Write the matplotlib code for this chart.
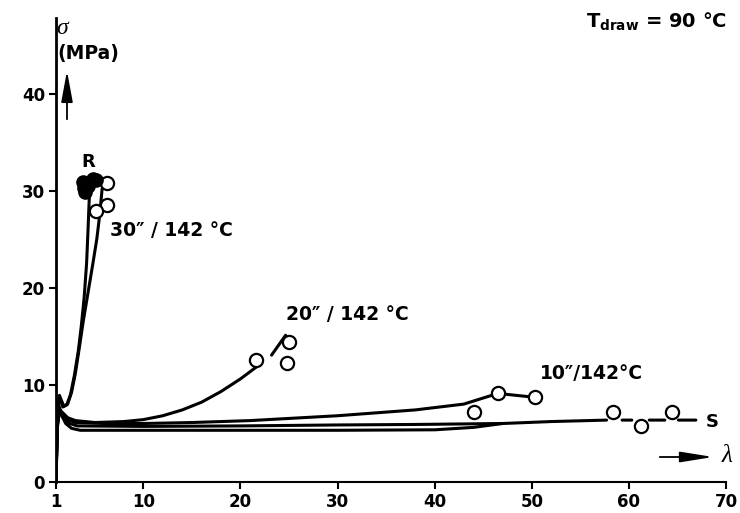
import matplotlib
matplotlib.use("Agg")
import matplotlib.pyplot as plt
from matplotlib.patches import FancyArrowPatch
import numpy as np

plt.rcParams['font.family'] = ['DejaVu Sans']
plt.rcParams['font.weight'] = 'bold'
plt.rcParams['mathtext.fontset'] = 'dejavusans'

nan = np.nan

# stress-strain curves, draw ratio lambda vs sigma (MPa)
c30a_x = [1.0, 1.1, 1.25, 1.45, 1.7, 2.1, 2.5, 2.9, 3.3, 3.6, 3.9, 4.15, 4.3, 4.45]
c30a_y = [0.0, 5.0, 8.3, 8.5, 7.7, 7.9, 9.0, 11.0, 13.5, 16.0, 19.0, 22.5, 26.0, 29.8]

c30b_x = [1.0, 1.15, 1.35, 1.55, 1.8, 2.2, 2.6, 3.0, 3.4, 3.8, 4.3, 4.8, 5.2, 5.5, 5.75]
c30b_y = [0.0, 6.0, 8.9, 8.4, 7.8, 8.0, 9.2, 11.2, 13.8, 16.5, 19.5, 22.5, 25.0, 27.5, 30.2]

c20_x = [1.0, 1.1, 1.3, 1.6, 2.2, 3.0, 5.0, 8.0, 10.0, 12.0, 14.0, 16.0, 18.0, 20.0, 21.6,
         nan, 23.2, 24.65]
c20_y = [0.0, 5.0, 7.5, 7.2, 6.6, 6.3, 6.1, 6.2, 6.4, 6.8, 7.4, 8.2, 9.3, 10.6, 11.8,
         nan, 13.05, 15.1]

c10_x = [1.0, 1.1, 1.3, 1.6, 2.2, 3.0, 6.0, 10.0, 15.0, 21.0, 30.0, 38.0, 43.0, 46.5, 50.3]
c10_y = [0.0, 5.0, 7.8, 7.0, 6.4, 6.1, 6.0, 6.0, 6.1, 6.3, 6.8, 7.4, 8.0, 9.1, 8.7]

cmid_x = [1.0, 1.15, 1.4, 1.8, 2.4, 3.2, 10.0, 20.0, 30.0, 38.0, 47.0]
cmid_y = [0.0, 6.0, 7.2, 6.6, 6.0, 5.75, 5.7, 5.75, 5.85, 5.9, 6.0]

cS_x = [1.0, 1.1, 1.25, 1.5, 2.0, 2.6, 3.5, 10.0, 20.0, 30.0, 40.0, 44.0, 47.0, 52.0, 57.7,
        nan, 59.3, 60.3, nan, 62.1, 63.7, nan, 65.1, 66.9]
cS_y = [0.0, 5.0, 7.3, 7.0, 6.0, 5.5, 5.3, 5.3, 5.3, 5.3, 5.35, 5.6, 6.0, 6.2, 6.35,
        nan, 6.35, 6.35, nan, 6.35, 6.35, nan, 6.35, 6.35]

# break points
open30_x = [6.3, 6.25, 5.15]
open30_y = [30.8, 28.5, 27.9]
filledR_x = [3.8, 4.0, 4.3, 4.8, 5.1, 3.9]
filledR_y = [30.9, 29.9, 30.5, 31.2, 31.1, 30.3]
open20_x = [21.6, 25.0, 24.8]
open20_y = [12.5, 14.4, 12.2]
open10_x = [44.0, 46.5, 50.3]
open10_y = [7.2, 9.1, 8.7]
openS_x = [58.4, 61.2, 64.4]
openS_y = [7.2, 5.7, 7.2]

x_ticks = [1, 10, 20, 30, 40, 50, 60, 70]
y_ticks = [0, 10, 20, 30, 40]

W, H = 740, 513
fig = plt.figure(figsize=(W / 100, H / 100), dpi=100)
ax = fig.add_axes([56 / W, 1 - 481.7 / H, (726 - 56) / W, (481.7 - 18) / H])


def fx(px):
    return px / W


def fy(py):
    return 1 - py / H


lw = 2.2
for xs, ys in [(c30a_x, c30a_y), (c30b_x, c30b_y), (c20_x, c20_y),
               (c10_x, c10_y), (cmid_x, cmid_y), (cS_x, cS_y)]:
    ax.plot(xs, ys, color='black', lw=lw, solid_capstyle='round', zorder=2)

ms = 9.5
for xs, ys in [(open30_x, open30_y), (open20_x, open20_y),
               (open10_x, open10_y), (openS_x, openS_y)]:
    ax.plot(xs, ys, 'o', ms=ms, mfc='white', mec='black', mew=1.6, ls='none', zorder=3)
ax.plot(filledR_x, filledR_y, 'o', ms=ms, mfc='black', mec='black', ls='none', zorder=3)

ax.set_xlim(1, 70)
ax.set_ylim(0, 47.8)
ax.spines['top'].set_visible(False)
ax.spines['right'].set_visible(False)
ax.spines['left'].set_linewidth(2.0)
ax.spines['bottom'].set_linewidth(1.5)
ax.set_xticks(x_ticks)
ax.set_yticks(y_ticks)
ax.tick_params(direction='out', length=5, width=1.5, labelsize=12, pad=3)
for lab in ax.get_xticklabels() + ax.get_yticklabels():
    lab.set_fontweight('bold')

txt = dict(fontsize=13.5, fontweight='bold', color='black')
ax.text(4.3, 33.0, 'R', ha='center', va='center', fontsize=13, fontweight='bold')
ax.text(6.6, 25.9, '30\u2033 / 142 \u00b0C', ha='left', va='center', **txt)
ax.text(24.7, 17.2, '20\u2033 / 142 \u00b0C', ha='left', va='center', **txt)
ax.text(50.8, 11.2, '10\u2033/142\u00b0C', ha='left', va='center', **txt)
ax.text(68.6, 6.2, 'S', ha='center', va='center', fontsize=13, fontweight='bold')

fig.text(fx(727), fy(22), r'$\mathbf{T_{draw}}$ = 90 °C', ha='right', va='center',
         fontsize=14, fontweight='bold')

# axis quantity labels with arrows
fig.text(fx(62), fy(28), '\u03c3', ha='center', va='center', fontsize=17,
         family='Liberation Serif', style='italic', fontweight='normal')
fig.text(fx(88), fy(53), '(MPa)', ha='center', va='center', fontsize=13.5, fontweight='bold')
fig.add_artist(FancyArrowPatch(
    (fx(67), fy(122)), (fx(67), fy(68)), transform=fig.transFigure,
    arrowstyle='-|>,head_length=19,head_width=3.5', color='black', lw=1.3))

fig.add_artist(FancyArrowPatch(
    (fx(657), fy(457)), (fx(716), fy(457)), transform=fig.transFigure,
    arrowstyle='-|>,head_length=20,head_width=3.2', color='black', lw=1.3))
fig.text(fx(727), fy(456), '\u03bb', ha='center', va='center', fontsize=18,
         family='Liberation Serif', style='italic', fontweight='normal')

fig.savefig('out.png', dpi=100)
